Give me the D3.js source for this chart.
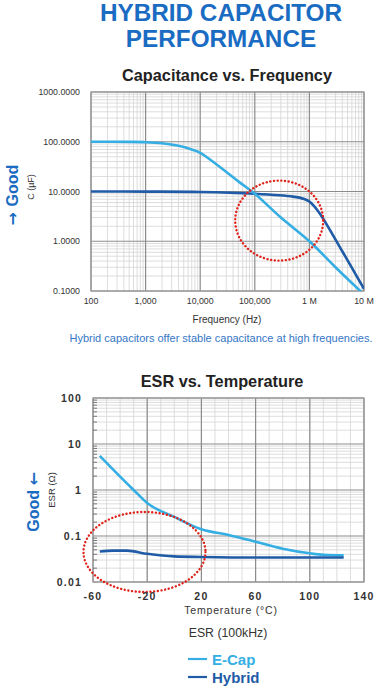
<!DOCTYPE html>
<html>
<head>
<meta charset="utf-8">
<script src="https://cdn.jsdelivr.net/npm/d3@7"></script>
<style>
  body { margin: 0; background: #fff; }
  svg { display: block; font-family: "Liberation Sans", Arial, Helvetica, sans-serif; }
</style>
</head>
<body>
<svg id="chart" width="375" height="688"></svg>
<script>
// capacitance vs frequency
const freqTicks = [100, 1000, 10000, 100000, 1000000, 10000000];
const freqLabels = ["100", "1,000", "10,000", "100,000", "1 M", "10 M"];
const capTicks = [1000, 100, 10, 1, 0.1];
const capLabels = ["1000.0000", "100.0000", "10.0000", "1.0000", "0.1000"];

const ecapFreq = [100, 500, 1000, 2000, 4000, 7000, 10000, 20000, 50000, 100000, 300000, 1000000, 3000000, 10000000];
const ecapCap  = [100, 99.5, 98, 93, 83, 70, 60, 35, 16, 9.0, 3.0, 1.0, 0.3, 0.085];
const hybFreq  = [100, 1000, 10000, 100000, 500000, 800000, 1000000, 1500000, 4000000, 10000000];
const hybCap   = [10, 9.95, 9.8, 9.0, 7.9, 7.1, 6.3, 3.8, 0.63, 0.11];

// esr vs temperature
const tempTicks = [-60, -20, 20, 60, 100, 140];
const esrTicks = [100, 10, 1, 0.1, 0.01];
const esrLabels = ["100", "10", "1", "0.1", "0.01"];
const ecapTemp = [-55, -40, -30, -20, 0, 20, 40, 60, 80, 100, 110, 125];
const ecapEsr  = [5.5, 1.95, 1.0, 0.52, 0.26, 0.14, 0.105, 0.075, 0.053, 0.042, 0.039, 0.038];
const hybTemp  = [-55, -45, -35, -20, 0, 20, 60, 100, 125];
const hybEsr   = [0.046, 0.048, 0.048, 0.041, 0.036, 0.035, 0.034, 0.034, 0.034];

const seriesNames = ["E-Cap", "Hybrid"];

const ecapColor = "#35aee3";
const hybColor = "#1f5ba6";
const brandBlue = "#1a6cc2";
const arrowFont = "DejaVu Sans";

const svg = d3.select("#chart");

// title
svg.append("text").attr("x", 221).attr("y", 21).attr("text-anchor", "middle")
  .attr("font-size", 24.3).attr("font-weight", "bold").attr("fill", brandBlue)
  .text("HYBRID CAPACITOR");
svg.append("text").attr("x", 221).attr("y", 47).attr("text-anchor", "middle")
  .attr("font-size", 24.3).attr("font-weight", "bold").attr("fill", brandBlue)
  .text("PERFORMANCE");

function logMinors(lo, hi) {
  const out = [];
  for (let p = Math.log10(lo); p < Math.log10(hi); p++) {
    for (let k = 2; k <= 9; k++) out.push(k * Math.pow(10, p));
  }
  return out;
}

function gridLines(g, x, y, xMinor, yMinor, xMajor, yMajor) {
  const [x0, x1] = x.range();
  const [y0, y1] = y.range();
  const minor = g.append("g").attr("stroke", "#d4d4d4").attr("stroke-width", 0.8);
  minor.selectAll("line.vx").data(xMinor).join("line")
    .attr("x1", d => x(d)).attr("x2", d => x(d)).attr("y1", y0).attr("y2", y1);
  minor.selectAll("line.hy").data(yMinor).join("line")
    .attr("y1", d => y(d)).attr("y2", d => y(d)).attr("x1", x0).attr("x2", x1);
  const major = g.append("g").attr("stroke", "#8c8c8c").attr("stroke-width", 1.2);
  major.selectAll("line.vx").data(xMajor).join("line")
    .attr("x1", d => x(d)).attr("x2", d => x(d)).attr("y1", y0).attr("y2", y1);
  major.selectAll("line.hy").data(yMajor).join("line")
    .attr("y1", d => y(d)).attr("y2", d => y(d)).attr("x1", x0).attr("x2", x1);
  g.append("rect").attr("x", x0).attr("y", y1).attr("width", x1 - x0).attr("height", y0 - y1)
    .attr("fill", "none").attr("stroke", "#999").attr("stroke-width", 1.2);
}

// ---------- chart 1 ----------
const x1 = d3.scaleLog().domain([100, 1e7]).range([91, 364]);
const y1 = d3.scaleLog().domain([0.1, 1000]).range([291, 92]);

svg.append("text").attr("x", 227).attr("y", 81).attr("text-anchor", "middle")
  .attr("font-size", 16.3).attr("font-weight", "bold").attr("fill", "#222")
  .text("Capacitance vs. Frequency");

const g1 = svg.append("g");
gridLines(g1, x1, y1, logMinors(100, 1e7), logMinors(0.1, 1000), freqTicks, capTicks);

svg.append("clipPath").attr("id", "clip1").append("rect")
  .attr("x", 91).attr("y", 92).attr("width", 273).attr("height", 199);

const line1 = d3.line().x(d => x1(d[0])).y(d => y1(d[1])).curve(d3.curveCatmullRom.alpha(0.5));
g1.append("path").datum(d3.zip(hybFreq, hybCap)).attr("d", line1)
  .attr("fill", "none").attr("stroke", hybColor).attr("stroke-width", 2.6)
  .attr("clip-path", "url(#clip1)");
g1.append("path").datum(d3.zip(ecapFreq, ecapCap)).attr("d", line1)
  .attr("fill", "none").attr("stroke", ecapColor).attr("stroke-width", 2.6)
  .attr("clip-path", "url(#clip1)");

g1.append("ellipse").attr("cx", x1(280000)).attr("cy", y1(2.6)).attr("rx", 44).attr("ry", 40)
  .attr("fill", "none").attr("stroke", "#e0231b").attr("stroke-width", 2.4)
  .attr("stroke-dasharray", "0.1,3.6").attr("stroke-linecap", "round");

g1.selectAll("text.yl").data(capTicks).join("text")
  .attr("x", 80).attr("y", d => y1(d) + 3).attr("text-anchor", "end")
  .attr("font-size", 8.8).attr("fill", "#333")
  .text((d, i) => capLabels[i]);
g1.selectAll("text.xl").data(freqTicks).join("text")
  .attr("x", d => x1(d)).attr("y", 304).attr("text-anchor", "middle")
  .attr("font-size", 8.8).attr("fill", "#333")
  .text((d, i) => freqLabels[i]);

svg.append("text").attr("x", 227).attr("y", 323).attr("text-anchor", "middle")
  .attr("font-size", 10).attr("fill", "#333").text("Frequency (Hz)");
svg.append("text").attr("x", 221).attr("y", 342).attr("text-anchor", "middle")
  .attr("font-size", 11).attr("fill", "#3576c6")
  .text("Hybrid capacitors offer stable capacitance at high frequencies.");

const good1 = svg.append("text").attr("transform", "translate(18,195) rotate(-90)")
  .attr("text-anchor", "middle").attr("font-size", 16).attr("font-weight", "bold").attr("fill", brandBlue);
good1.append("tspan").attr("font-family", arrowFont).text("\u2192 ");
good1.append("tspan").text("Good");
svg.append("text").attr("transform", "translate(34,187) rotate(-90)").attr("text-anchor", "middle")
  .attr("font-size", 9).attr("fill", "#333")
  .text("C (\u00b5F)");

// ---------- chart 2 ----------
const x2 = d3.scaleLinear().domain([-60, 140]).range([93, 364]);
const y2 = d3.scaleLog().domain([0.01, 100]).range([582, 398]);

svg.append("text").attr("x", 222).attr("y", 387).attr("text-anchor", "middle")
  .attr("font-size", 16.3).attr("font-weight", "bold").attr("fill", "#222")
  .text("ESR vs. Temperature");

const g2 = svg.append("g");
gridLines(g2, x2, y2, d3.range(-50, 140, 10), logMinors(0.01, 100), tempTicks, esrTicks);

// small ticks on left axis
g2.selectAll("line.tk").data(logMinors(0.01, 100)).join("line")
  .attr("x1", 93).attr("x2", 97).attr("y1", d => y2(d)).attr("y2", d => y2(d))
  .attr("stroke", "#777").attr("stroke-width", 1);

const line2 = d3.line().x(d => x2(d[0])).y(d => y2(d[1])).curve(d3.curveMonotoneX);
g2.append("path").datum(d3.zip(ecapTemp, ecapEsr)).attr("d", line2)
  .attr("fill", "none").attr("stroke", ecapColor).attr("stroke-width", 2.6);
g2.append("path").datum(d3.zip(hybTemp, hybEsr)).attr("d", line2)
  .attr("fill", "none").attr("stroke", hybColor).attr("stroke-width", 2.6);

g2.append("ellipse").attr("cx", x2(-22)).attr("cy", y2(0.045)).attr("rx", 61).attr("ry", 40)
  .attr("fill", "none").attr("stroke", "#e0231b").attr("stroke-width", 2.4)
  .attr("stroke-dasharray", "0.1,3.6").attr("stroke-linecap", "round");

g2.selectAll("text.yl").data(esrTicks).join("text")
  .attr("x", 82).attr("y", d => y2(d) + 4).attr("text-anchor", "end")
  .attr("font-size", 10.5).attr("font-weight", "bold").attr("fill", "#333")
  .attr("letter-spacing", 1.2)
  .text((d, i) => esrLabels[i]);
g2.selectAll("text.xl").data(tempTicks).join("text")
  .attr("x", d => x2(d)).attr("y", 600).attr("text-anchor", "middle")
  .attr("font-size", 10.5).attr("font-weight", "bold").attr("fill", "#333")
  .attr("letter-spacing", 1.2)
  .text(d => d);

svg.append("text").attr("x", 231).attr("y", 614).attr("text-anchor", "middle")
  .attr("font-size", 10.5).attr("fill", "#333").attr("letter-spacing", 0.8)
  .text("Temperature  (\u00b0C)");
svg.append("text").attr("x", 228).attr("y", 637).attr("text-anchor", "middle")
  .attr("font-size", 12.3).attr("fill", "#333").text("ESR (100kHz)");

const good2 = svg.append("text").attr("transform", "translate(39,502) rotate(-90)")
  .attr("text-anchor", "middle").attr("font-size", 16).attr("font-weight", "bold").attr("fill", brandBlue);
good2.append("tspan").text("Good ");
good2.append("tspan").attr("font-family", arrowFont).text("\u2190");
svg.append("text").attr("transform", "translate(55,490) rotate(-90)").attr("text-anchor", "middle")
  .attr("font-size", 9.5).attr("fill", "#333")
  .text("ESR  (\u03a9)");

// legend
const legend = svg.append("g");
const legendColors = [ecapColor, hybColor];
legend.selectAll("line").data(seriesNames).join("line")
  .attr("x1", 188).attr("x2", 207)
  .attr("y1", (d, i) => 659 + i * 18).attr("y2", (d, i) => 659 + i * 18)
  .attr("stroke", (d, i) => legendColors[i]).attr("stroke-width", 2.2);
legend.selectAll("text").data(seriesNames).join("text")
  .attr("x", 212).attr("y", (d, i) => 664.5 + i * 18)
  .attr("font-size", 15).attr("font-weight", "bold")
  .attr("fill", (d, i) => legendColors[i])
  .text(d => d);
</script>
</body>
</html>
